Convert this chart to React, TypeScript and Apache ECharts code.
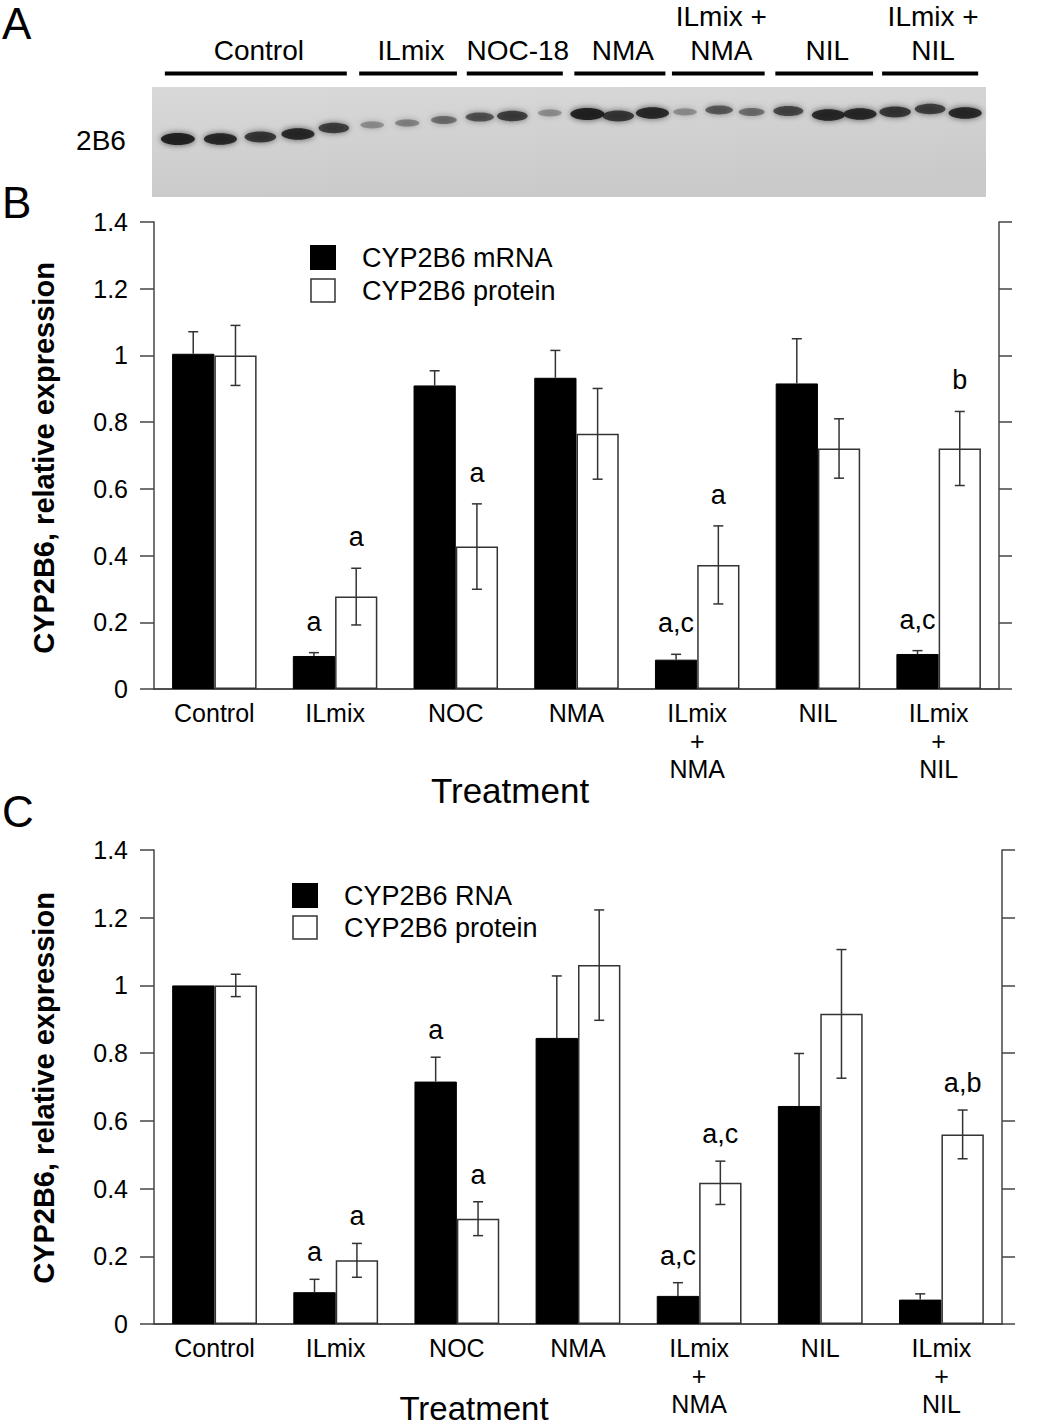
import React, { useEffect, useRef } from "react";
import * as echarts from "echarts";

const FONT = "'Liberation Sans', Arial, Helvetica, sans-serif";

// ---------- Panel A (western blot) ----------
const blotGroups = ["Control", "ILmix", "NOC-18", "NMA", "ILmix +\nNMA", "NIL", "ILmix +\nNIL"];
const blotGroupLanes = [5, 3, 3, 3, 3, 3, 3];
// lane centre, % of blot width
const lanePos = [3.1, 8.2, 13.0, 17.5, 21.8, 26.4, 30.6, 35.0, 39.3, 43.2, 47.7, 52.2, 55.9, 60.0, 63.9, 68.0, 71.9, 76.3, 81.1, 84.9, 89.1, 93.3, 97.5];
// band migration, from the top of the blot
const bandMigration = [52, 52, 50, 47, 41, 38, 36, 33, 30, 29, 26, 27, 29, 26, 25, 23, 25, 24, 28, 27, 25, 22, 26];
// band darkness 0..1
const bandIntensity = [1.0, 0.95, 0.85, 0.95, 0.8, 0.35, 0.4, 0.5, 0.65, 0.8, 0.35, 1.0, 0.85, 0.95, 0.35, 0.6, 0.5, 0.75, 0.95, 0.95, 0.85, 0.8, 0.95];

// ---------- Panels B & C ----------
const categories = ["Control", "ILmix", "NOC", "NMA", "ILmix\n+\nNMA", "NIL", "ILmix\n+\nNIL"];

const bMrna = [1.005, 0.099, 0.91, 0.933, 0.088, 0.916, 0.105];
const bMrnaErr = [0.066, 0.01, 0.044, 0.082, 0.016, 0.134, 0.01];
const bProt = [1.0, 0.277, 0.427, 0.765, 0.372, 0.721, 0.721];
const bProtErr = [0.09, 0.085, 0.128, 0.136, 0.117, 0.089, 0.111];
const bMrnaMarks = ["", "a", "", "", "a,c", "", "a,c"];
const bProtMarks = ["", "a", "a", "", "a", "", "b"];

const cRna = [1.0, 0.094, 0.716, 0.845, 0.083, 0.644, 0.072];
const cRnaErr = [0, 0.038, 0.072, 0.183, 0.039, 0.155, 0.017];
const cProt = [1.0, 0.188, 0.311, 1.06, 0.417, 0.916, 0.56];
const cProtErr = [0.033, 0.05, 0.05, 0.163, 0.064, 0.19, 0.072];
const cRnaMarks = ["", "a", "a", "", "a,c", "", ""];
const cProtMarks = ["", "a", "a", "", "a,c", "", "a,b"];

const Y_MIN = 0;
const Y_MAX = 1.4;
const Y_STEP = 0.2;

const AXIS_COLOR = "#444";
const BAR_FRAC = 0.35;

function errorSeries(xi: number, yi: number, vals: number[], errs: number[], slot: number, upOnly: boolean) {
  return {
    type: "custom",
    xAxisIndex: xi,
    yAxisIndex: yi,
    z: 5,
    silent: true,
    data: vals.map((v, i) => [i, v, errs[i]]),
    renderItem: (_p: any, api: any) => {
      const i = api.value(0);
      const v = api.value(1);
      const e = api.value(2);
      if (!e) return null;
      const band = api.size([1, 0])[0];
      const bw = band * BAR_FRAC;
      const cx = api.coord([i, v])[0] + (slot === 0 ? -bw / 2 : bw / 2);
      const yTop = api.coord([i, v + e])[1];
      const yBot = api.coord([i, upOnly ? v : v - e])[1];
      const cap = 5;
      const style = { stroke: "#333", lineWidth: 1.5 };
      const children: any[] = [
        { type: "line", shape: { x1: cx, y1: yTop, x2: cx, y2: yBot }, style },
        { type: "line", shape: { x1: cx - cap, y1: yTop, x2: cx + cap, y2: yTop }, style },
      ];
      if (!upOnly) children.push({ type: "line", shape: { x1: cx - cap, y1: yBot, x2: cx + cap, y2: yBot }, style });
      return { type: "group", children };
    },
  };
}

function markSeries(xi: number, yi: number, vals: number[], errs: number[], marks: string[], slot: number, offset: number) {
  return {
    type: "custom",
    xAxisIndex: xi,
    yAxisIndex: yi,
    z: 6,
    silent: true,
    data: vals.map((v, i) => [i, v + errs[i]]),
    renderItem: (_p: any, api: any) => {
      const i = api.value(0);
      const label = marks[i];
      if (!label) return null;
      const band = api.size([1, 0])[0];
      const bw = band * BAR_FRAC;
      const pt = api.coord([i, api.value(1)]);
      return {
        type: "text",
        x: pt[0] + (slot === 0 ? -bw / 2 : bw / 2),
        y: pt[1] - offset,
        style: { text: label, fill: "#000", fontSize: 27, fontFamily: FONT, align: "center", verticalAlign: "middle" },
      };
    },
  };
}

function barSeries(name: string, xi: number, yi: number, vals: number[], filled: boolean) {
  return {
    type: "bar",
    name,
    xAxisIndex: xi,
    yAxisIndex: yi,
    barGap: "0%",
    barCategoryGap: "30%",
    silent: true,
    data: vals,
    itemStyle: filled
      ? { color: "#000", borderColor: "#000", borderWidth: 1 }
      : { color: "#fff", borderColor: "#333", borderWidth: 1.5 },
  };
}

function panelAxes(gridIndex: number) {
  const xAxes = [
    {
      type: "category",
      gridIndex,
      position: "bottom",
      data: categories,
      axisLine: { show: true, lineStyle: { color: AXIS_COLOR, width: 1.5 } },
      axisTick: { show: false },
      axisLabel: { interval: 0, color: "#000", fontSize: 25, fontFamily: FONT, lineHeight: 28, margin: 10 },
      splitLine: { show: false },
    },
    {
      type: "category",
      gridIndex,
      position: "top",
      data: categories,
      axisLine: { show: true, lineStyle: { color: AXIS_COLOR, width: 1.5 } },
      axisTick: { show: false },
      axisLabel: { show: false },
      splitLine: { show: false },
    },
  ];
  const yAxes = [
    {
      type: "value",
      gridIndex,
      position: "left",
      min: Y_MIN,
      max: Y_MAX,
      interval: Y_STEP,
      axisLine: { show: true, lineStyle: { color: AXIS_COLOR, width: 1.5 } },
      axisTick: { show: true, inside: false, length: 14, lineStyle: { color: AXIS_COLOR, width: 1.5 } },
      axisLabel: { color: "#000", fontSize: 25, fontFamily: FONT, margin: 26 },
      splitLine: { show: false },
    },
    {
      type: "value",
      gridIndex,
      position: "right",
      min: Y_MIN,
      max: Y_MAX,
      interval: Y_STEP,
      axisLine: { show: true, lineStyle: { color: AXIS_COLOR, width: 1.5 } },
      axisTick: { show: true, inside: false, length: 13, lineStyle: { color: AXIS_COLOR, width: 1.5 } },
      axisLabel: { show: false },
      splitLine: { show: false },
    },
  ];
  return { xAxes, yAxes };
}

function buildOption() {
  const groupStart: number[] = [];
  let acc = 0;
  blotGroupLanes.forEach((n) => {
    groupStart.push(acc);
    acc += n;
  });

  const B = panelAxes(1);
  const C = panelAxes(2);

  const legendText = { fontSize: 27, fontFamily: FONT, color: "#000", lineHeight: 23, padding: [0, 0, 0, 22] };
  const protLegendItem = { name: "CYP2B6 protein", itemStyle: { color: "#fff", borderColor: "#333", borderWidth: 1.5 } };

  return {
    animation: false,
    backgroundColor: "#fff",
    textStyle: { fontFamily: FONT },
    grid: [
      { left: 152, top: 87, width: 834, height: 110 },
      { left: 154, top: 222, width: 845, height: 467 },
      { left: 154, top: 850, width: 848, height: 474 },
    ],
    xAxis: [
      { type: "value", gridIndex: 0, min: 0, max: 100, show: false },
      ...B.xAxes,
      ...C.xAxes,
    ],
    yAxis: [
      { type: "value", gridIndex: 0, min: 0, max: 110, inverse: true, show: false },
      ...B.yAxes,
      ...C.yAxes,
    ],
    legend: [
      {
        orient: "vertical",
        left: 305,
        top: 239,
        itemWidth: 24,
        itemHeight: 23,
        itemGap: 6,
        selectedMode: false,
        icon: "rect",
        textStyle: legendText,
        data: [{ name: "CYP2B6 mRNA", itemStyle: { color: "#000" } }, protLegendItem],
      },
      {
        orient: "vertical",
        left: 287,
        top: 877,
        itemWidth: 24,
        itemHeight: 23,
        itemGap: 5,
        selectedMode: false,
        icon: "rect",
        textStyle: legendText,
        data: [{ name: "CYP2B6 RNA", itemStyle: { color: "#000" } }, protLegendItem],
      },
    ],
    graphic: [
      {
        type: "rect",
        z: -1,
        shape: { x: 152, y: 87, width: 834, height: 110 },
        style: {
          fill: new echarts.graphic.LinearGradient(0, 0, 0.3, 1, [
            { offset: 0, color: "#d9d9d9" },
            { offset: 1, color: "#cacaca" },
          ]),
        },
      },
      { type: "text", x: 2, y: 23, style: { text: "A", fontSize: 44, fontFamily: FONT, fill: "#000", verticalAlign: "middle" } },
      { type: "text", x: 2, y: 202, style: { text: "B", fontSize: 44, fontFamily: FONT, fill: "#000", verticalAlign: "middle" } },
      { type: "text", x: 2, y: 811, style: { text: "C", fontSize: 44, fontFamily: FONT, fill: "#000", verticalAlign: "middle" } },
      { type: "text", x: 101, y: 140, style: { text: "2B6", fontSize: 28, fontFamily: FONT, fill: "#000", align: "center", verticalAlign: "middle" } },
      {
        type: "text",
        x: 44,
        y: 458,
        rotation: Math.PI / 2,
        style: { text: "CYP2B6, relative expression", fontSize: 29, fontWeight: "bold", fontFamily: FONT, fill: "#000", align: "center", verticalAlign: "middle" },
      },
      {
        type: "text",
        x: 44,
        y: 1088,
        rotation: Math.PI / 2,
        style: { text: "CYP2B6, relative expression", fontSize: 29, fontWeight: "bold", fontFamily: FONT, fill: "#000", align: "center", verticalAlign: "middle" },
      },
      { type: "text", x: 510, y: 790, style: { text: "Treatment", fontSize: 35, fontFamily: FONT, fill: "#000", align: "center", verticalAlign: "middle" } },
      { type: "text", x: 474, y: 1408, style: { text: "Treatment", fontSize: 33, fontFamily: FONT, fill: "#000", align: "center", verticalAlign: "middle" } },
    ],
    series: [
      // blot bands
      {
        type: "custom",
        xAxisIndex: 0,
        yAxisIndex: 0,
        silent: true,
        data: lanePos.map((p, i) => [p, bandMigration[i], bandIntensity[i]]),
        renderItem: (_p: any, api: any) => {
          const pt = api.coord([api.value(0), api.value(1)]);
          const I = api.value(2);
          return {
            type: "ellipse",
            shape: { cx: pt[0], cy: pt[1], rx: 9 + 8 * I, ry: 2 + 4 * I },
            style: { fill: "#181818", opacity: Math.min(1, 0.9 * I), shadowBlur: 6, shadowColor: "rgba(20,20,20,0.7)" },
          };
        },
      },
      // blot group labels
      {
        type: "custom",
        xAxisIndex: 0,
        yAxisIndex: 0,
        silent: true,
        clip: false,
        data: blotGroups.map((_g, gi) => [lanePos[groupStart[gi]], lanePos[groupStart[gi] + blotGroupLanes[gi] - 1], gi]),
        renderItem: (_p: any, api: any) => {
          const x1 = api.coord([api.value(0), 0])[0] - 13;
          const x2 = api.coord([api.value(1), 0])[0] + 13;
          const top = api.coord([0, 0])[1];
          const y = top - 13.5;
          return {
            type: "group",
            children: [
              { type: "rect", shape: { x: x1, y: y - 2, width: x2 - x1, height: 4 }, style: { fill: "#000" } },
              {
                type: "text",
                x: (x1 + x2) / 2 + 3,
                y: y - 6,
                style: { text: blotGroups[api.value(2)], fontSize: 28, fontFamily: FONT, fill: "#000", align: "center", verticalAlign: "bottom", lineHeight: 34 },
              },
            ],
          };
        },
      },
      // Panel B
      barSeries("CYP2B6 mRNA", 1, 1, bMrna, true),
      barSeries("CYP2B6 protein", 1, 1, bProt, false),
      errorSeries(1, 1, bMrna, bMrnaErr, 0, true),
      errorSeries(1, 1, bProt, bProtErr, 1, false),
      markSeries(1, 1, bMrna, bMrnaErr, bMrnaMarks, 0, 31),
      markSeries(1, 1, bProt, bProtErr, bProtMarks, 1, 31),
      // Panel C
      barSeries("CYP2B6 RNA", 3, 3, cRna, true),
      barSeries("CYP2B6 protein", 3, 3, cProt, false),
      errorSeries(3, 3, cRna, cRnaErr, 0, true),
      errorSeries(3, 3, cProt, cProtErr, 1, false),
      markSeries(3, 3, cRna, cRnaErr, cRnaMarks, 0, 27),
      markSeries(3, 3, cProt, cProtErr, cProtMarks, 1, 27),
    ],
  };
}

export default function App() {
  const ref = useRef<HTMLDivElement>(null);
  useEffect(() => {
    if (!ref.current) return;
    const chart = echarts.init(ref.current, null, { renderer: "svg" });
    chart.setOption(buildOption() as any);
    return () => chart.dispose();
  }, []);
  return <div ref={ref} style={{ position: "absolute", left: 0, top: 0, width: 1039, height: 1427, background: "#fff" }} />;
}
